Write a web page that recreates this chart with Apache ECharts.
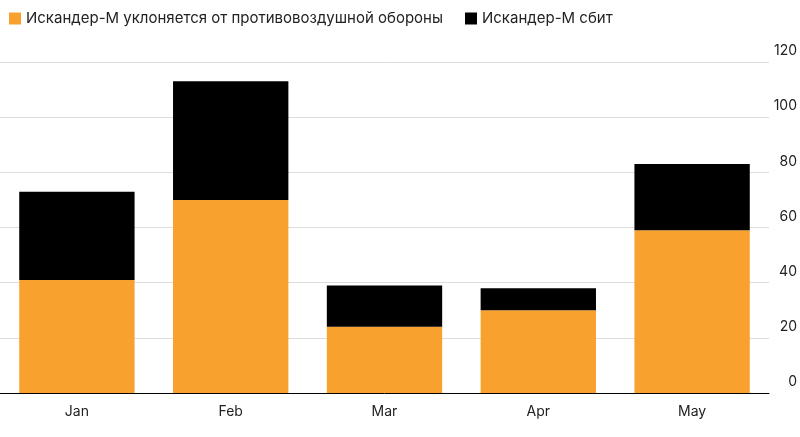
<!DOCTYPE html><html><head><meta charset="utf-8"><script src="https://cdn.jsdelivr.net/npm/echarts@6/dist/echarts.min.js"></script></head><body style="margin:0"><div id="c" style="width:800px;height:437px"></div><script>
const categories=['Jan','Feb','Mar','Apr','May'];
const evaded=[41,70,24,30,59];
const shotDown=[32,43,15,8,24];
const ticks=[0,20,40,60,80,100,120];
const ch=echarts.init(document.getElementById('c'));
ch.setOption({animation:false,
textStyle:{fontFamily:'Inter'},
legend:{left:4,top:6,itemWidth:12,itemHeight:12,icon:'rect',itemGap:22,textStyle:{fontSize:15,color:'#222'}},
grid:{left:0,right:30,top:62,bottom:44},
xAxis:{type:'category',data:categories,axisLine:{lineStyle:{color:'#000'}},axisTick:{show:false},axisLabel:{fontSize:14,color:'#222',margin:12}},
yAxis:{type:'value',position:'right',min:0,max:120,interval:20,axisLabel:{fontSize:14,color:'#222',verticalAlign:'bottom',align:'right',margin:28,padding:[0,0,4,0]},splitLine:{lineStyle:{color:'#ddd'}}},
series:[{name:'Искандер-М уклоняется от противовоздушной обороны',type:'bar',stack:'a',data:evaded,barWidth:'75%',itemStyle:{color:'#f9a12e'}},
{name:'Искандер-М сбит',type:'bar',stack:'a',data:shotDown,itemStyle:{color:'#000'}}]});
</script></body></html>
